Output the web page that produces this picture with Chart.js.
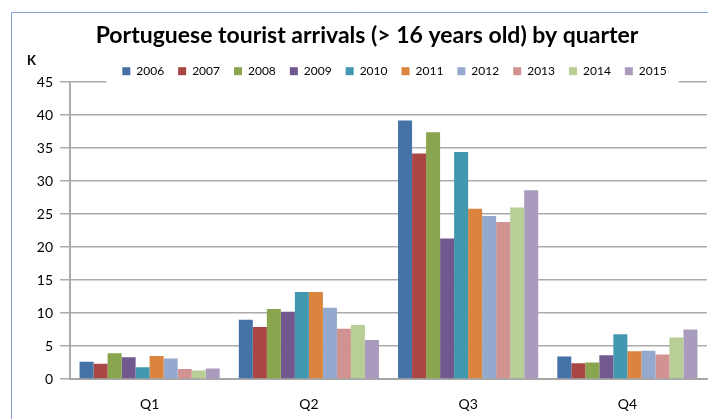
<!DOCTYPE html>
<html>
<head>
<meta charset="utf-8">
<script src="https://cdn.jsdelivr.net/npm/chart.js@4/dist/chart.umd.min.js"></script>
<style>
  html, body { margin: 0; padding: 0; background: #fff; }
  #wrap { width: 708px; height: 419px; position: relative; }
</style>
</head>
<body>
<div id="wrap"><canvas id="tourists" width="708" height="419"></canvas></div>
<script>
const quarters = ['Q1', 'Q2', 'Q3', 'Q4'];
const years = ['2006', '2007', '2008', '2009', '2010', '2011', '2012', '2013', '2014', '2015'];
const colors = ['#4572A7', '#AA4643', '#89A54E', '#71588F', '#4198AF',
                '#DB843D', '#93A9CF', '#D19392', '#B9CD96', '#A99BBD'];

// thousands of arrivals, one array per year: Q1..Q4
const y2006 = [2.6, 9.0, 39.2, 3.4];
const y2007 = [2.3, 7.9, 34.2, 2.4];
const y2008 = [3.9, 10.6, 37.4, 2.5];
const y2009 = [3.3, 10.2, 21.3, 3.6];
const y2010 = [1.8, 13.2, 34.4, 6.8];
const y2011 = [3.5, 13.2, 25.8, 4.2];
const y2012 = [3.1, 10.8, 24.7, 4.3];
const y2013 = [1.5, 7.6, 23.8, 3.7];
const y2014 = [1.3, 8.2, 26.0, 6.3];
const y2015 = [1.6, 5.9, 28.6, 7.5];
const series = [y2006, y2007, y2008, y2009, y2010, y2011, y2012, y2013, y2014, y2015];

const yTicks = [0, 5, 10, 15, 20, 25, 30, 35, 40, 45];

const font = 'Lato, "Open Sans", sans-serif';
const ctx = document.getElementById('tourists');

// excel-ish tweaks: frame, centred title/legend, legend sits over the top gridline
const tweaks = {
    id: 'tweaks',
    beforeLayout(chart) {
        const lg = chart.legend;
        if (lg && !lg._squeezed) {
            const fit = lg.fit;
            lg.fit = function () { fit.call(this); this.height = 14; };
            lg.draw = function () { this._draw(); };   // no clipping to its own box
            lg._squeezed = true;
        }
    },
    afterLayout(chart) {
        const area = chart.chartArea;
        chart.titleBlock.left = 11;
        chart.titleBlock.right = 723;
        chart.legend.left = area.left + 6;
        chart.legend.right = area.right + 6;
        chart.legend.top -= 17;
        chart.legend.bottom -= 17;
    },
    beforeDraw(chart) {
        const c = chart.ctx;
        c.save();
        c.strokeStyle = '#7FA2D0';
        c.lineWidth = 1;
        c.beginPath();
        c.moveTo(11.5, 419);
        c.lineTo(11.5, 12.5);
        c.lineTo(708, 12.5);
        c.stroke();
        c.restore();
    },
    beforeDatasetsDraw(chart) {
        const boxes = chart.legend.legendHitBoxes;
        if (!boxes || !boxes.length) return;
        const first = boxes[0], last = boxes[boxes.length - 1];
        const c = chart.ctx;
        c.save();
        c.fillStyle = '#fff';
        c.fillRect(first.left - 16, chart.chartArea.top - 3, last.left + last.width - first.left + 28, 6);
        c.restore();
    }
};

new Chart(ctx, {
    type: 'bar',
    data: {
        labels: quarters,
        datasets: years.map((yr, i) => ({
            label: yr,
            data: series[i],
            backgroundColor: colors[i],
            borderWidth: 0,
            categoryPercentage: 0.88,
            barPercentage: 1.0
        }))
    },
    options: {
        responsive: false,
        animation: false,
        devicePixelRatio: 1,
        layout: { padding: { left: 27, right: 1, top: 12, bottom: 6 } },
        plugins: {
            title: {
                display: true,
                text: 'Portuguese tourist arrivals (> 16 years old) by quarter',
                color: '#000',
                font: { family: font, size: 23, weight: 'bold' },
                padding: { top: 9.5, bottom: 0 }
            },
            subtitle: {
                display: true,
                text: 'K',
                align: 'start',
                color: '#000',
                font: { family: font, size: 13, weight: 'bold' },
                padding: { top: 3.5, bottom: 0 }
            },
            legend: {
                position: 'top',
                labels: {
                    boxWidth: 8,
                    boxHeight: 8,
                    padding: 14,
                    color: '#000',
                    font: { family: font, size: 12 }
                }
            },
            tooltip: { enabled: false }
        },
        scales: {
            x: {
                afterFit(axis) { axis.height = 34; },
                grid: { display: false, drawTicks: false },
                border: { display: true, color: '#A6A6A6', width: 2 },
                ticks: { color: '#000', font: { family: font, size: 14 }, padding: 17 }
            },
            y: {
                min: 0,
                max: 45,
                afterBuildTicks(axis) {
                    axis.ticks = yTicks.map(v => ({ value: v }));
                },
                afterFit(axis) { axis.width = 43; },
                grid: { color: '#ABABAB', lineWidth: 1.5, tickLength: 10, drawTicks: true },
                border: { display: true, color: '#ABABAB', width: 2 },
                ticks: { color: '#000', font: { family: font, size: 14 }, padding: 7 }
            }
        }
    },
    plugins: [tweaks]
});
</script>
</body>
</html>
